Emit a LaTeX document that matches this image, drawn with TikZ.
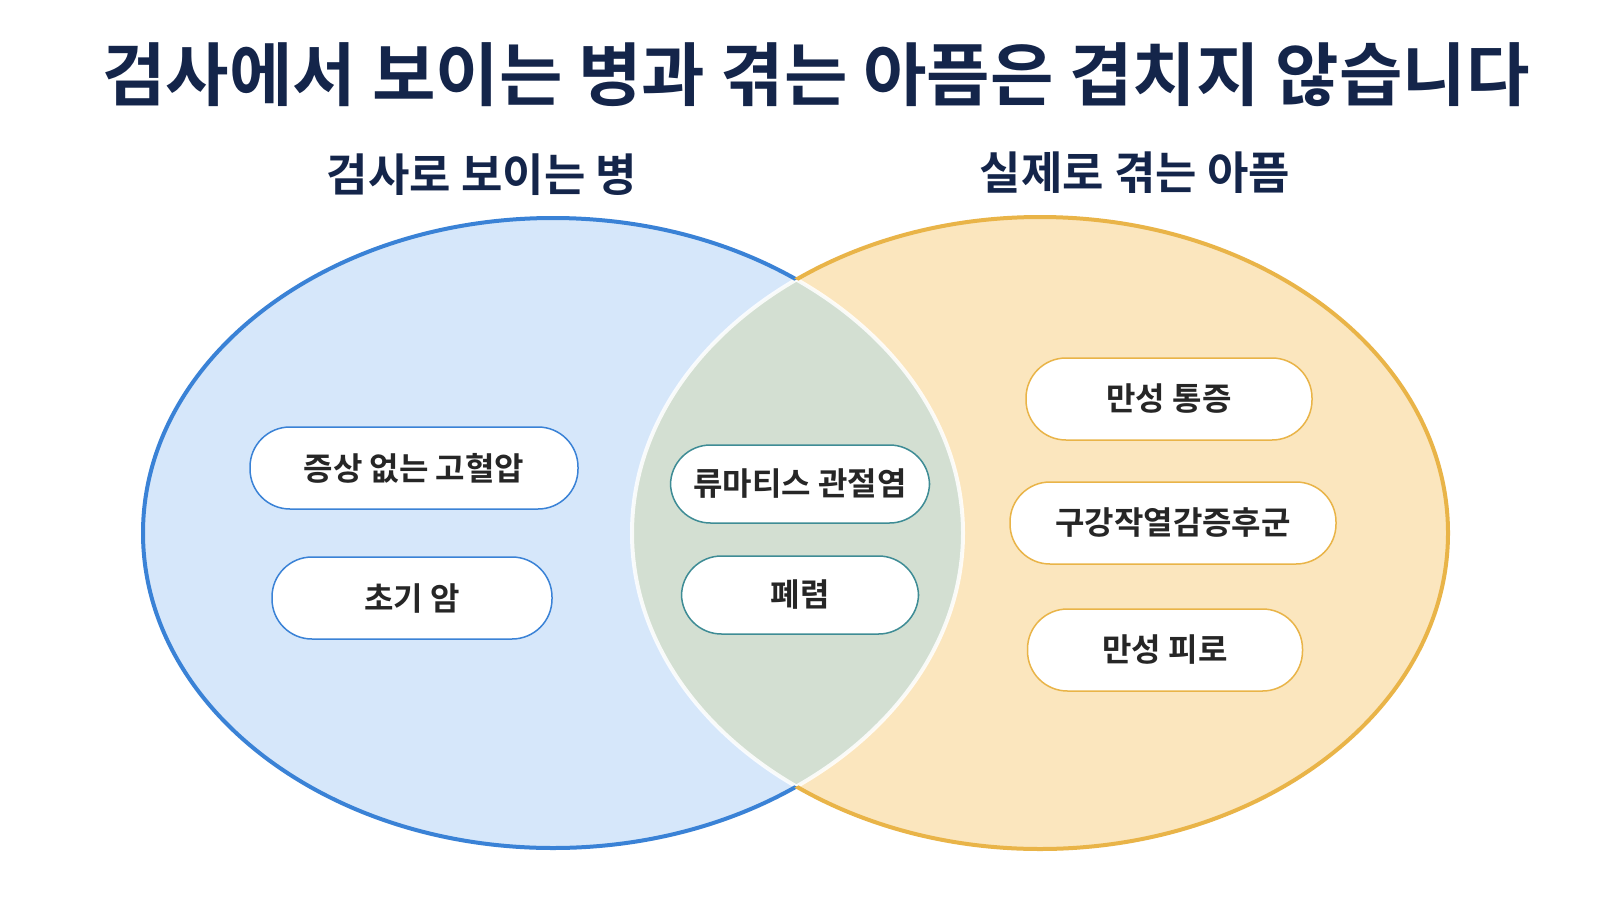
\documentclass[tikz,border=0pt]{standalone}
\usepackage{fontspec}
\setmainfont{Noto Sans CJK KR}[BoldFont={Noto Sans CJK KR Bold}]
\begin{document}
\begin{tikzpicture}[x=1pt,y=-1pt,
  pill/.style={draw=#1,line width=1.5pt,fill=white,rounded corners=40pt,minimum height=82pt,font=\bfseries\fontsize{32}{36}\selectfont,text=black!85},
  sub/.style={font=\bfseries\fontsize{45}{50}\selectfont,text=title}]
\definecolor{title}{HTML}{14254A}
\definecolor{bl}{HTML}{3A82D6}
\definecolor{blf}{HTML}{D6E7FA}
\definecolor{orb}{HTML}{E9B448}
\definecolor{orf}{HTML}{FBE6BE}
\definecolor{mid}{HTML}{D3DFD2}
\definecolor{teal}{HTML}{3E8C95}
\def\Lel{(553,533) ellipse [x radius=410,y radius=315]}
\def\Rel{(1040,533) ellipse [x radius=408,y radius=316]}
\useasboundingbox (0,0) rectangle (1600,900);
\fill[white] (0,0) rectangle (1600,900);
\node[font=\bfseries\fontsize{69}{76}\selectfont,text=title] (t) at (816,75) {검사에서 보이는 병과 겪는 아픔은 겹치지 않습니다};
\node[sub] (s1) at (482,175) {검사로 보이는 병};
\node[sub] (s2) at (1135,173) {실제로 겪는 아픔};
\fill[blf] \Lel;
\fill[orf] \Rel;
\begin{scope}
\clip \Lel;
\fill[mid] \Rel;
\draw[white,line width=4pt,opacity=.85] \Rel;
\end{scope}
\begin{scope}
\clip \Rel;
\draw[white,line width=4pt,opacity=.85] \Lel;
\end{scope}
\begin{scope}[even odd rule]
\clip (0,0) rectangle (1600,900) \Rel;
\draw[bl,line width=4pt] \Lel;
\end{scope}
\begin{scope}[even odd rule]
\clip (0,0) rectangle (1600,900) \Lel;
\draw[orb,line width=4pt] \Rel;
\end{scope}
\node[pill=bl,minimum width=328pt] (a1) at (414,468) {증상 없는 고혈압};
\node[pill=bl,minimum width=280pt] (a2) at (412,598) {초기 암};
\node[pill=teal,minimum width=259pt,minimum height=78pt] (b1) at (800,484) {류마티스 관절염};
\node[pill=teal,minimum width=237pt,minimum height=78pt] (b2) at (800,595) {폐렴};
\node[pill=orb,minimum width=286pt] (c1) at (1169,399) {만성 통증};
\node[pill=orb,minimum width=326pt] (c2) at (1173,523) {구강작열감증후군};
\node[pill=orb,minimum width=275pt] (c3) at (1165,650) {만성 피로};
\end{tikzpicture}
\end{document}
